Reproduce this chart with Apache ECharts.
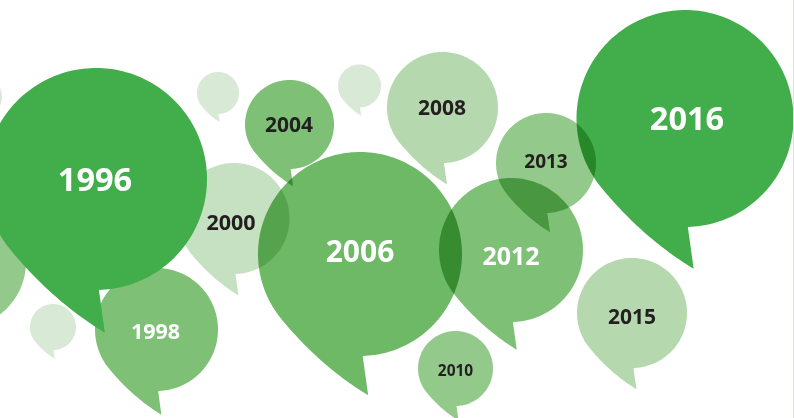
<!DOCTYPE html>
<html>
<head>
<meta charset="utf-8">
<script src="https://cdn.jsdelivr.net/npm/echarts@6/dist/echarts.min.js"></script>
<style>
html,body{margin:0;padding:0;background:#fff;}
#chart{width:794px;height:418px;}
</style>
</head>
<body>
<div id="chart"></div>
<script>
// ---- data (bubble centre x, centre y, radius in chart units; shade level) ----
const labels = ['', '', '', '', '', '2000', '1998', '2004', '2006', '2008', '2010', '2012', '2013', '2015', '2016', '1996'];
const centerX = [-18, -40, 218, 359.5, 53, 234, 156.5, 289.5, 360, 442.5, 455.5, 511, 546, 632, 685, 96];
const centerY = [97, 262, 93, 86, 327, 218.5, 329.5, 124.5, 254, 107.5, 368.5, 250, 163, 313, 118.5, 179];
const radius  = [20, 66, 21, 21.5, 23, 55.5, 61.5, 44.5, 102, 55.5, 37.5, 72, 50, 55, 108.5, 111];
const shade   = [0, 3, 0, 0, 0, 1, 4, 4, 5, 2, 3, 4, 3, 2, 6, 6];
const frontYears = ['1996'];
const whiteLabelYears = ['1996', '1998', '2006', '2012', '2016'];

// ---- styles ----
const palette = ['#d8ead5', '#c6e1c1', '#b5d8ae', '#94c98c', '#7fc077', '#6db966', '#42ad4b'];
const darkText = '#231f20';
// label font size and small nudge (px) per year
const labelStyle = {
  '1996': { size: 32.5, dx: -1, dy: 3 },
  '1998': { size: 21.5, dx: -1, dy: 3 },
  '2000': { size: 21.5, dx: -3, dy: 5 },
  '2004': { size: 21, dx: -0.5, dy: 1.5 },
  '2006': { size: 30, dx: 0, dy: -0.5 },
  '2008': { size: 21, dx: -0.5, dy: 2 },
  '2010': { size: 15.5, dx: 0, dy: 3 },
  '2012': { size: 25, dx: 0, dy: 8 },
  '2013': { size: 19, dx: 0, dy: 0 },
  '2015': { size: 21, dx: 0, dy: 5 },
  '2016': { size: 32.5, dx: 2, dy: 2 }
};

const all = labels.map((l, i) => [centerX[i], centerY[i], radius[i], i]);
const backData = all.filter(d => frontYears.indexOf(labels[d[3]]) < 0);
const frontData = all.filter(d => frontYears.indexOf(labels[d[3]]) >= 0);
const labelData = all.filter(d => labels[d[3]] !== '');

function bubblePoints(cx, cy, r) {
  const pts = [];
  const a0 = 88.5 * Math.PI / 180;
  const a1 = (140 - 360) * Math.PI / 180;
  const n = 180;
  for (let i = 0; i <= n; i++) {
    const a = a0 + (a1 - a0) * i / n;
    pts.push([cx + r * Math.cos(a), cy + r * Math.sin(a)]);
  }
  const P = [cx + r * Math.cos(a1), cy + r * Math.sin(a1)];
  const C = [cx - 0.39 * r, cy + 1.10 * r];
  const T = [cx + 0.08 * r, cy + 1.385 * r];
  for (let i = 1; i <= 40; i++) {
    const t = i / 40, u = 1 - t;
    pts.push([u*u*P[0] + 2*u*t*C[0] + t*t*T[0], u*u*P[1] + 2*u*t*C[1] + t*t*T[1]]);
  }
  return pts;
}

function renderBubble(params, api) {
  const c = api.coord([api.value(0), api.value(1)]);
  const r = api.size([api.value(2), api.value(2)])[0];
  const idx = api.value(3);
  return {
    type: 'polygon',
    shape: { points: bubblePoints(c[0], c[1], r) },
    style: { fill: palette[shade[idx]], stroke: null }
  };
}

function renderLabel(params, api) {
  const c = api.coord([api.value(0), api.value(1)]);
  const idx = api.value(3);
  const year = labels[idx];
  const st = labelStyle[year] || { size: 20, dx: 0, dy: 2 };
  return {
    type: 'text',
    x: c[0] + st.dx,
    y: c[1] + st.dy,
    style: {
      text: year,
      fill: whiteLabelYears.indexOf(year) >= 0 ? '#ffffff' : darkText,
      font: 'bold ' + st.size + 'px "Open Sans", sans-serif',
      align: 'center',
      verticalAlign: 'middle'
    }
  };
}

const chart = echarts.init(document.getElementById('chart'), null, { renderer: 'canvas' });
chart.setOption({
  backgroundColor: '#ffffff',
  animation: false,
  grid: { left: 0, right: 0, top: 0, bottom: 0, containLabel: false },
  xAxis: { type: 'value', min: 0, max: 794, show: false },
  yAxis: { type: 'value', min: 0, max: 418, inverse: true, show: false },
  graphic: [{
    type: 'rect', z: 10,
    shape: { x: 793, y: 0, width: 1, height: 418 },
    style: { fill: '#e2ded8' }
  }],
  series: [
    {
      type: 'custom', name: 'bubbles', z: 1,
      blendMode: 'multiply',
      encode: { x: 0, y: 1 },
      renderItem: renderBubble,
      data: backData,
      clip: false,
      silent: true
    },
    {
      type: 'custom', name: 'front', z: 2,
      encode: { x: 0, y: 1 },
      renderItem: renderBubble,
      data: frontData,
      clip: false,
      silent: true
    },
    {
      type: 'custom', name: 'labels', z: 3,
      encode: { x: 0, y: 1 },
      renderItem: renderLabel,
      data: labelData,
      clip: false,
      silent: true
    }
  ]
});
</script>
</body>
</html>
